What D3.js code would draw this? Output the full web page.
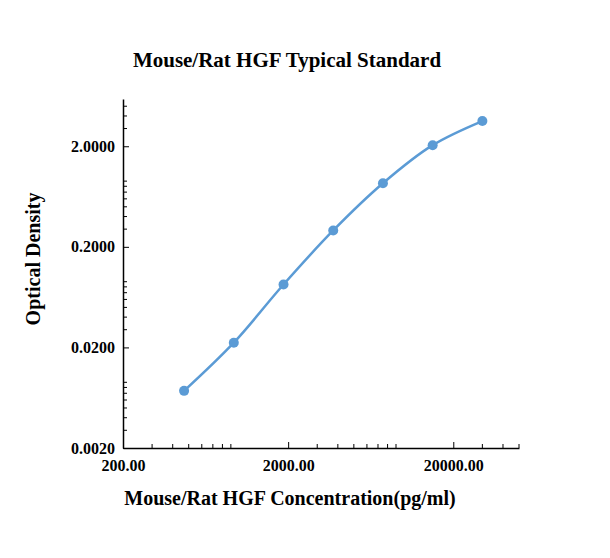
<!DOCTYPE html>
<html><head><meta charset="utf-8">
<script src="https://cdn.jsdelivr.net/npm/d3@7"></script>
<style>body{margin:0;background:#fff}text{font-family:"Liberation Serif","Times New Roman",serif;font-weight:bold}</style>
</head><body><svg id="c" width="610" height="558"></svg>
<script>
const concentrations=[468.75,937.5,1875,3750,7500,15000,30000];
const od=[0.0074,0.0223,0.0844,0.291,0.857,2.05,3.56];
const xTicks=[200,2000,20000];
const yTicks=[0.002,0.02,0.2,2];
const svg=d3.select("#c");
const x=d3.scaleLog().domain([200,50000]).range([123,519]);
const y=d3.scaleLog().domain([0.002,5.9]).range([448,99]);
svg.append("text").attr("x",287).attr("y",67).attr("text-anchor","middle").attr("font-size",21).text("Mouse/Rat HGF Typical Standard");
const xa=svg.append("g").attr("transform","translate(0,448)").call(d3.axisBottom(x).tickValues(xTicks).tickFormat(d3.format(".2f")).tickSize(-6).tickSizeOuter(0));
const minor=[];for(let d=100;d<=50000;d*=10)for(let k=2;k<=9;k++){const v=d*k;if(v>200&&v<=50000&&!xTicks.includes(v))minor.push(v);}
xa.selectAll(".mn").data(minor).enter().append("line").attr("x1",d=>x(d)).attr("x2",d=>x(d)).attr("y1",0).attr("y2",-4).attr("stroke","#000");
xa.selectAll("text").attr("y",12).attr("font-size",16).attr("fill","#000");
xa.select(".domain").attr("stroke","#000").attr("stroke-width",1.5);
const ya=svg.append("g").attr("transform","translate(123,0)").call(d3.axisLeft(y).tickValues(yTicks).tickFormat(d3.format(".4f")).tickSize(-6).tickSizeOuter(0));
ya.selectAll(".tick text").attr("x",-8);
const yminor=[];for(let d=0.001;d<=5;d*=10)for(let k=2;k<=9;k++){const v=d*k;if(v>0.002&&v<=5.9&&!yTicks.some(t=>Math.abs(t-v)<1e-9))yminor.push(v);}
ya.selectAll(".mn").data(yminor).enter().append("line").attr("x1",0).attr("x2",4).attr("y1",d=>y(d)).attr("y2",d=>y(d)).attr("stroke","#000");
ya.selectAll("text").attr("font-size",16).attr("fill","#000");
ya.select(".domain").attr("stroke","#000").attr("stroke-width",1.5);
svg.append("text").attr("x",290).attr("y",505).attr("text-anchor","middle").attr("font-size",20).text("Mouse/Rat HGF Concentration(pg/ml)");
svg.append("text").attr("transform","translate(40,259) rotate(-90)").attr("text-anchor","middle").attr("font-size",20).text("Optical Density");
const pts=concentrations.map((c,i)=>[x(c),y(od[i])]);
svg.append("path").attr("d",d3.line().curve(d3.curveCatmullRom)(pts)).attr("fill","none").attr("stroke","#5b9bd5").attr("stroke-width",2.5);
svg.selectAll("circle").data(pts).enter().append("circle").attr("cx",d=>d[0]).attr("cy",d=>d[1]).attr("r",5).attr("fill","#5b9bd5");
</script></body></html>
